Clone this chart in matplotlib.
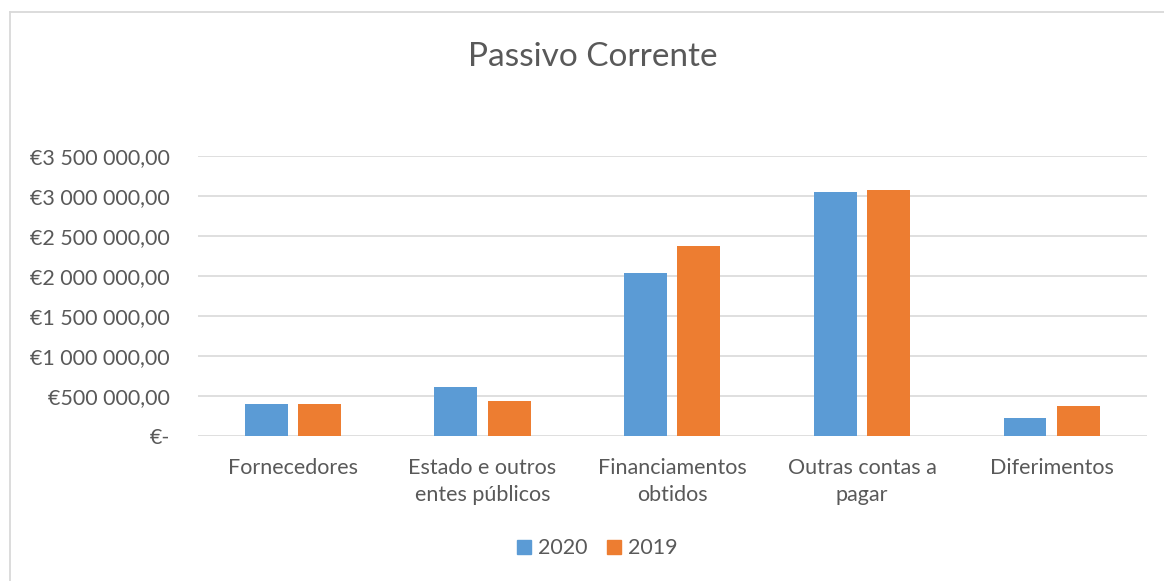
import numpy as np
import matplotlib.pyplot as plt
from matplotlib.lines import Line2D
from matplotlib.ticker import FuncFormatter

plt.rcParams['font.family'] = ['Lato', 'DejaVu Sans']

categorias = ["Fornecedores", "Estado e outros\nentes públicos", "Financiamentos\nobtidos",
              "Outras contas a\npagar", "Diferimentos"]
anos = ["2020", "2019"]
valores_2020 = [405000, 617000, 2040000, 3055000, 230000]
valores_2019 = [400000, 434000, 2380000, 3070000, 380000]
cores = ["#5B9BD5", "#ED7D31"]
cinza = "#595959"

def euro(v, pos):
    if v == 0:
        return "€-"
    s = f"{v:,.2f}".replace(",", " ").replace(".", ",")
    return "€" + s

fig = plt.figure(figsize=(11.64, 5.81), dpi=100)
ax = fig.add_axes([0.170, 0.2496, 0.815, 0.4819])

x = np.arange(len(categorias))
w = 0.226
gap = 0.055
ax.bar(x - (w + gap) / 2, valores_2020, w, color=cores[0], label=anos[0], zorder=3)
ax.bar(x + (w + gap) / 2, valores_2019, w, color=cores[1], label=anos[1], zorder=3)

ax.set_xlim(-0.5, len(categorias) - 0.5)
ax.set_ylim(0, 3500000)
ax.set_yticks(np.arange(0, 3500001, 500000))
ax.yaxis.set_major_formatter(FuncFormatter(euro))
ax.grid(axis='y', color='#D9D9D9', linewidth=1.2, zorder=0)
ax.set_xticks(x)
ax.set_xticklabels(categorias, linespacing=1.45)
ax.tick_params(axis='both', length=0, labelsize=15.5, colors=cinza)
ax.tick_params(axis='y', pad=20)
ax.tick_params(axis='x', pad=16)
for s in ax.spines.values():
    s.set_visible(False)

fig.text(0.5095, 0.902, "Passivo Corrente", ha='center', va='center', fontsize=24, color=cinza)

handles = [Line2D([], [], marker='s', linestyle='none', markersize=10, color=c) for c in cores]
fig.legend(handles, anos, loc='center', bbox_to_anchor=(0.513, 0.056), ncol=2, frameon=False,
           fontsize=15.5, labelcolor=cinza, handlelength=0.7, handletextpad=0.3, columnspacing=0.9)

# moldura do gráfico (só visíveis as arestas esquerda e superior)
fig.add_artist(Line2D([10 / 1164, 10 / 1164], [0, 1 - 12 / 581], color='#D9D9D9', linewidth=1.3))
fig.add_artist(Line2D([10 / 1164, 1], [1 - 12 / 581, 1 - 12 / 581], color='#D9D9D9', linewidth=1.3))

fig.savefig("out.png", dpi=100)
